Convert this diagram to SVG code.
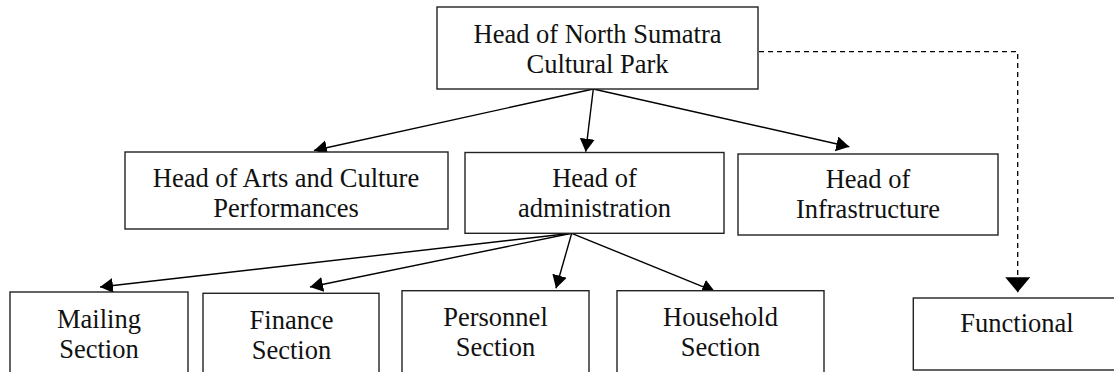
<svg xmlns="http://www.w3.org/2000/svg" width="1114" height="372" viewBox="0 0 1114 372">
<style>
.box{fill:#fff;stroke:#222;stroke-width:1.4}
.t{font-family:"Liberation Serif","Times New Roman",serif;font-size:26.5px;fill:#111;text-anchor:middle}
.c{fill:none;stroke:#000;stroke-width:1.4}
.d{fill:none;stroke:#000;stroke-width:1.3;stroke-dasharray:5,4}
</style>
<defs>
<marker id="ah" markerUnits="userSpaceOnUse" markerWidth="14" markerHeight="16" refX="13" refY="7.5" orient="auto">
<path d="M0,0 L13,7.5 L0,15 Z" fill="#000"/>
</marker>
<marker id="ahb" markerUnits="userSpaceOnUse" markerWidth="16" markerHeight="26" refX="15" refY="12.5" orient="auto">
<path d="M0,0 L15,12.5 L0,25 Z" fill="#000"/>
</marker>
</defs>
<rect width="1114" height="372" fill="#fff"/>
<g id="connectors">
<path class="c" d="M593.3,89 L314,150.5" marker-end="url(#ah)"/>
<path class="c" d="M593.3,89 L585.7,151.7" marker-end="url(#ah)"/>
<path class="c" d="M593.3,89 L849.3,146.7" marker-end="url(#ah)"/>
<path class="c" d="M571.7,233.3 L100,287" marker-end="url(#ah)"/>
<path class="c" d="M571.7,233.3 L310,287" marker-end="url(#ah)"/>
<path class="c" d="M571.7,233.3 L556,288.3" marker-end="url(#ah)"/>
<path class="c" d="M571.7,233.3 L715,291.7" marker-end="url(#ah)"/>
<path class="d" d="M759,51.7 H1017.7 V292.3" marker-end="url(#ahb)"/>
</g>
<g id="head">
<rect class="box" x="437" y="7" width="321" height="82"/>
<text class="t" x="597.5" y="43.3">Head of North Sumatra</text>
<text class="t" x="597.5" y="73.3">Cultural Park</text>
</g>
<g id="arts">
<rect class="box" x="125" y="152" width="323" height="77"/>
<text class="t" x="286" y="187.3">Head of Arts and Culture</text>
<text class="t" x="286" y="217.3">Performances</text>
</g>
<g id="admin">
<rect class="box" x="465" y="152.5" width="259" height="80.8"/>
<text class="t" x="594.5" y="187.3">Head of</text>
<text class="t" x="594.5" y="217.3">administration</text>
</g>
<g id="infra">
<rect class="box" x="738" y="154" width="260" height="81"/>
<text class="t" x="868" y="188.3">Head of</text>
<text class="t" x="868" y="218.3">Infrastructure</text>
</g>
<g id="mailing">
<rect class="box" x="10" y="292" width="178" height="90"/>
<text class="t" x="99" y="328.3">Mailing</text>
<text class="t" x="99" y="357.8">Section</text>
</g>
<g id="finance">
<rect class="box" x="203" y="293.3" width="176" height="90"/>
<text class="t" x="291.5" y="329">Finance</text>
<text class="t" x="291.5" y="359">Section</text>
</g>
<g id="personnel">
<rect class="box" x="402" y="290.7" width="187" height="90"/>
<text class="t" x="495.5" y="326">Personnel</text>
<text class="t" x="495.5" y="356">Section</text>
</g>
<g id="household">
<rect class="box" x="617" y="290.7" width="207" height="90"/>
<text class="t" x="720.5" y="326">Household</text>
<text class="t" x="720.5" y="356">Section</text>
</g>
<g id="functional">
<rect class="box" x="913.3" y="298" width="210" height="72"/>
<text class="t" x="1017" y="332.3">Functional</text>
</g>
</svg>
